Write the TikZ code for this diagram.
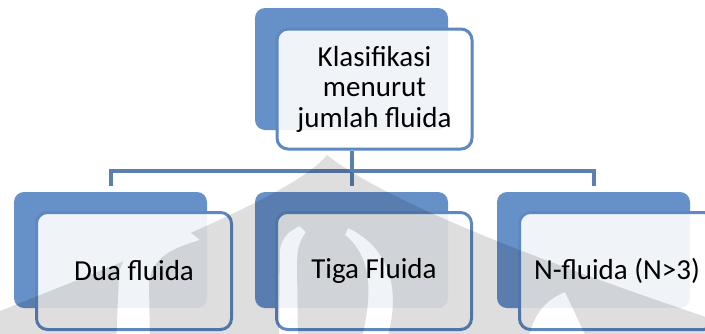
\documentclass[tikz,border=0pt]{standalone}
\usepackage{fontspec}
\setmainfont{Carlito}
\begin{document}
\begin{tikzpicture}[x=1pt,y=-1pt,
  backbox/.style={rounded corners=10pt, fill=boxblue, draw=none,
    minimum width=193pt, minimum height=#1, inner sep=0pt},
  frontbox/.style={rounded corners=11pt, fill=white, fill opacity=0.9,
    text opacity=1, draw=edgeblue, line width=3pt,
    minimum width=195pt, minimum height=#1, inner sep=0pt,
    font=\fontsize{29}{30.5}\selectfont, text=black, align=center},
  conn/.style={draw=lineblue, line width=4pt}]
\definecolor{boxblue}{HTML}{6690C8}
\definecolor{edgeblue}{HTML}{5D88C0}
\definecolor{lineblue}{HTML}{5A80B2}

\useasboundingbox (0,0) rectangle (705,333);
\fill[white] (0,0) rectangle (705,333);

% root
\node[backbox=122pt] (tb) at (351.5,69) {};
\node[frontbox=120pt] (tf) at (374.5,89) {Klasifikasi\\menurut\\jumlah fluida};

% children
\node[backbox=116pt] (bl) at (110.5,250) {};
\node[backbox=116pt] (bm) at (351.5,250) {};
\node[backbox=116pt] (br) at (593.5,250) {};
\node[frontbox=117pt] (cl) at (134,271) {Dua fluida};
\node[frontbox=117pt] (cm) at (374,271) {Tiga Fluida};
\node[frontbox=117pt] (cr) at (617,271) {N-fluida (N>3)};

% connectors
\coordinate (bus) at (351.5,171);
\draw[conn, shorten <=6pt, shorten >=6pt]
  (bl.north) -- (bl.north |- bus) -- (br.north |- bus) -- (br.north);
\draw[conn, shorten <=6pt] (bm.north) -- (tf.south -| bm.north);

% watermark emblem
\begin{scope}
  \clip (327,155) .. controls (295,195) and (140,255) .. (-10,315)
        -- (-10,345) -- (715,345) -- (715,320)
        .. controls (560,268) and (390,205) .. (327,155) -- cycle;
  \fill[black, opacity=0.13, even odd rule]
    (-20,100) rectangle (730,350)
    (116,345) -- (119,275) .. controls (121,250) and (150,238) .. (190,232)
      -- (200,240) .. controls (165,250) and (150,262) .. (149,285)
      -- (150,345) -- cycle
    (279,345) -- (280,250) .. controls (281,238) and (290,230) .. (300,226)
      -- (306,232) .. controls (299,242) and (297,250) .. (297,265)
      -- (298,345) -- cycle
    (348,228) .. controls (385,245) and (405,285) .. (385,345)
      -- (360,345) .. controls (375,290) and (370,255) .. (345,235) -- cycle
    (527,345) .. controls (532,315) and (545,300) .. (565,292)
      -- (590,345) -- cycle;
\end{scope}
\end{tikzpicture}
\end{document}
